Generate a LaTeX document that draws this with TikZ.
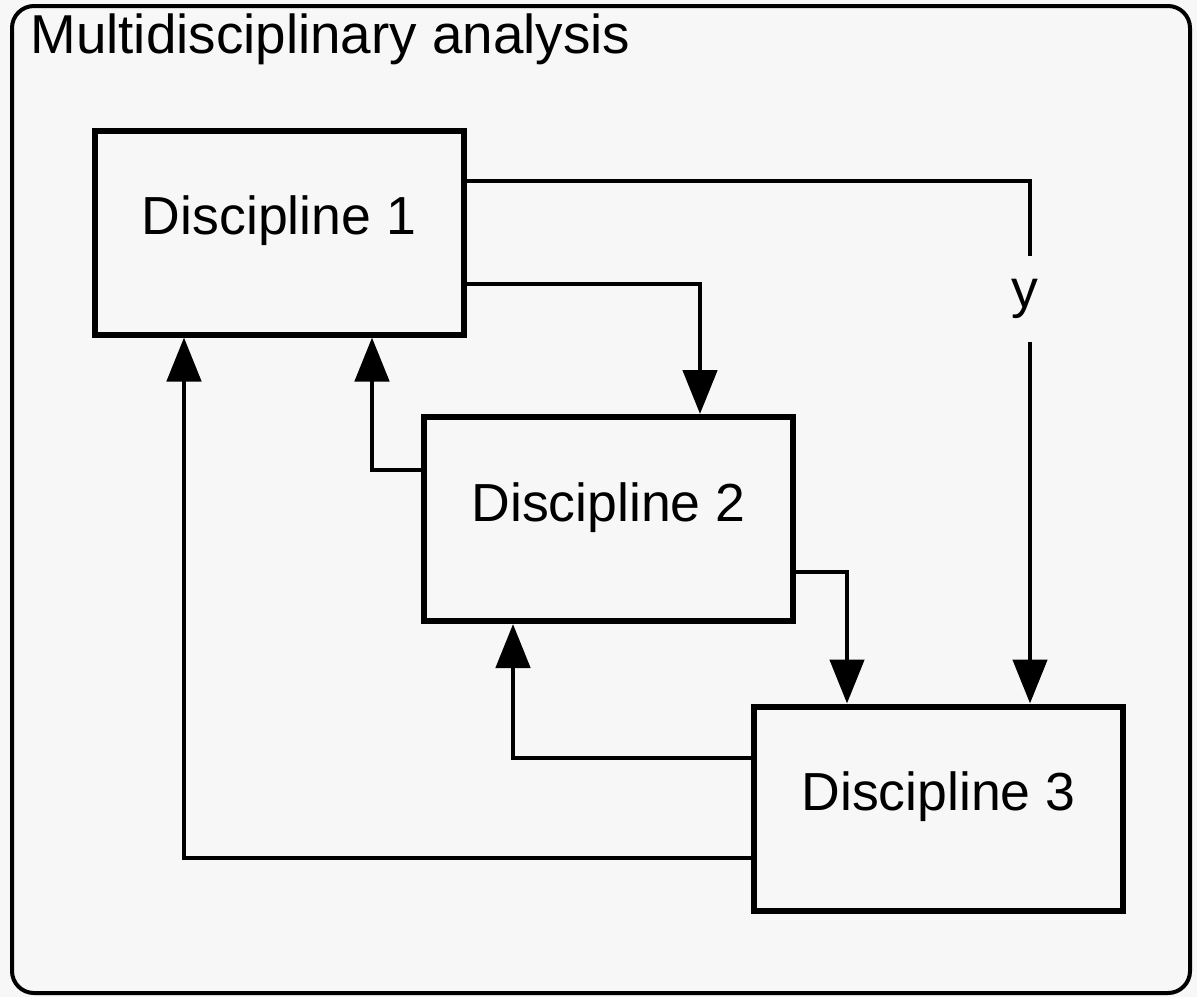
\documentclass[tikz,border=0pt]{standalone}
\usepackage{fontspec}
\setmainfont{Liberation Sans}
\usetikzlibrary{arrows.meta}
\definecolor{bgcol}{HTML}{F7F7F7}
\begin{document}
\begin{tikzpicture}[x=0.5pt,y=-0.5pt,
  txt/.style={font=\fontsize{26.8pt}{32pt}\selectfont},
  titletxt/.style={font=\fontsize{27.4pt}{32pt}\selectfont},
  disc/.style={draw, line width=3pt, minimum width=184.5pt, minimum height=102pt,
    inner sep=0pt, txt, text height=0.72em, text depth=0.5em},
  conn/.style={line width=2.4pt, -{Triangle[width=17pt,length=22pt]}},
  frame/.style={draw, line width=2pt, rounded corners=11pt, inner sep=0pt}]
\useasboundingbox (0,0) rectangle (1197,997);
\fill[bgcol] (0,0) rectangle (1197,997);
\node[frame, minimum width=589pt, minimum height=493.5pt] (mda) at (601,499.5) {};
\node[titletxt, anchor=base west, inner sep=0pt] (title) at (30,53) {Multidisciplinary analysis};

\node[disc] (d1) at (279,232.5) {Discipline 1};
\node[disc] (d2) at (608.5,519) {Discipline 2};
\node[disc] (d3) at (938.5,808.5) {Discipline 3};

\coordinate (r1) at (0,181);
\coordinate (r2) at (0,284);
\coordinate (r3) at (0,470);
\coordinate (r4) at (0,572);
\coordinate (r5) at (0,758);
\coordinate (r6) at (0,858);
\coordinate (cy) at (1030,0);
\coordinate (c2) at (700,0);
\coordinate (c3) at (372,0);
\coordinate (c4) at (847,0);
\coordinate (c5) at (513,0);
\coordinate (c6) at (184,0);

\draw[conn] (d1.east |- r1) -| (d3.north -| cy)
  node[pos=0.613, fill=bgcol, inner xsep=4pt, inner ysep=0pt, minimum height=43pt, txt, xshift=-2.5pt] (ylab) {y};
\draw[conn] (d1.east |- r2) -| (d2.north -| c2);
\draw[conn] (d2.west |- r3) -| (d1.south -| c3);
\draw[conn] (d2.east |- r4) -| (d3.north -| c4);
\draw[conn] (d3.west |- r5) -| (d2.south -| c5);
\draw[conn] (d3.west |- r6) -| (d1.south -| c6);
\end{tikzpicture}
\end{document}
